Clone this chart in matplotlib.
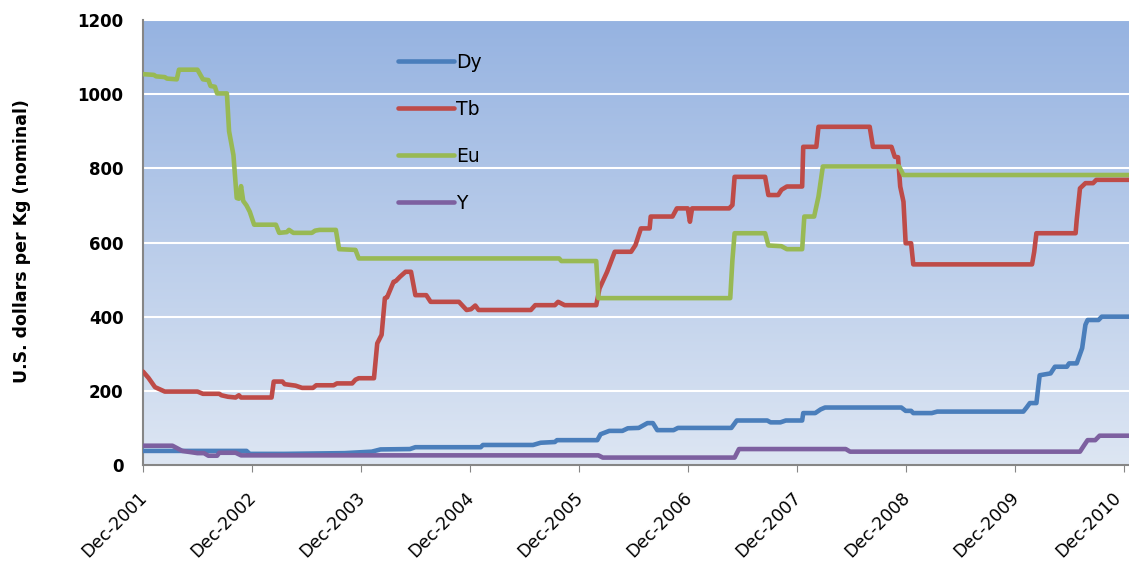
import numpy as np
import matplotlib
matplotlib.use("Agg")
import matplotlib.pyplot as plt
from matplotlib.colors import LinearSegmentedColormap
from matplotlib.transforms import ScaledTranslation

# years since Dec-2001 and price (USD/kg)
years = ["Dec-2001", "Dec-2002", "Dec-2003", "Dec-2004", "Dec-2005",
         "Dec-2006", "Dec-2007", "Dec-2008", "Dec-2009", "Dec-2010"]

dy_t = [0.00, 0.95, 0.98, 1.30, 1.85, 2.10, 2.18, 2.45, 2.50, 3.10, 3.12, 3.58, 3.65, 3.78,
        3.80, 4.17, 4.20, 4.28, 4.40, 4.45, 4.55, 4.63, 4.68, 4.72, 4.87, 4.91, 5.40, 5.45,
        5.73, 5.76, 5.85, 5.90, 6.05, 6.06, 6.17, 6.22, 6.26, 6.96, 7.00, 7.05, 7.07, 7.24,
        7.29, 8.08, 8.11, 8.14, 8.20, 8.23, 8.33, 8.37, 8.48, 8.50, 8.57, 8.62, 8.65, 8.67,
        8.77, 8.80, 9.05]
dy_v = [38, 38, 30, 30, 32, 36, 42, 43, 48, 48, 54, 54, 60, 62,
        67, 67, 83, 92, 92, 99, 100, 113, 113, 94, 94, 100, 100, 120,
        120, 115, 115, 120, 120, 140, 140, 150, 155, 155, 146, 146, 140, 140,
        144, 144, 155, 167, 167, 242, 247, 265, 265, 274, 274, 315, 378, 391,
        391, 400, 400]

tb_t = [0.00, 0.05, 0.11, 0.20, 0.50, 0.55, 0.70, 0.72, 0.78, 0.85, 0.88, 0.90, 1.18, 1.20,
        1.28, 1.30, 1.40, 1.46, 1.56, 1.59, 1.75, 1.78, 1.92, 1.95, 1.98, 2.12, 2.15, 2.19,
        2.22, 2.24, 2.30, 2.32, 2.36, 2.41, 2.46, 2.50, 2.60, 2.64, 2.90, 2.97, 3.01, 3.05,
        3.08, 3.56, 3.60, 3.78, 3.81, 3.87, 4.16, 4.19, 4.26, 4.33, 4.48, 4.52, 4.57, 4.65,
        4.66, 4.86, 4.90, 5.00, 5.02, 5.04, 5.38, 5.41, 5.43, 5.71, 5.74, 5.83, 5.86, 5.91,
        6.05, 6.06, 6.18, 6.20, 6.67, 6.70, 6.87, 6.90, 6.93, 6.95, 6.98, 7.00, 7.05, 7.07,
        8.16, 8.18, 8.20, 8.56, 8.57, 8.60, 8.65, 8.72, 8.75, 9.05]
tb_v = [252, 235, 210, 198, 198, 192, 192, 188, 184, 182, 188, 182, 182, 225,
        225, 218, 214, 208, 208, 215, 215, 220, 220, 230, 234, 234, 328, 351,
        450, 452, 494, 496, 508, 521, 521, 458, 458, 440, 440, 418, 420, 430,
        418, 418, 431, 431, 440, 431, 431, 476, 521, 575, 575, 593, 638, 638,
        670, 670, 692, 692, 656, 692, 692, 701, 777, 777, 728, 728, 742, 751,
        751, 858, 858, 912, 912, 858, 858, 831, 830, 751, 710, 598, 598, 541,
        541, 575, 625, 625, 661, 746, 760, 760, 769, 769]

eu_t = [0.00, 0.10, 0.12, 0.20, 0.22, 0.31, 0.33, 0.50, 0.55, 0.60, 0.62, 0.66, 0.68, 0.77,
        0.79, 0.83, 0.86, 0.88, 0.90, 0.92, 0.95, 0.98, 1.02, 1.22, 1.25, 1.32, 1.34, 1.38,
        1.55, 1.58, 1.62, 1.77, 1.80, 1.95, 1.98, 3.82, 3.84, 4.16, 4.18, 5.39, 5.41, 5.43,
        5.71, 5.74, 5.86, 5.91, 6.05, 6.07, 6.16, 6.20, 6.24, 6.94, 6.98, 9.05]
eu_v = [1054, 1052, 1048, 1046, 1042, 1040, 1066, 1066, 1040, 1038, 1022, 1020, 1002, 1002,
        900, 836, 720, 718, 752, 712, 700, 683, 648, 648, 626, 628, 634, 626,
        626, 632, 634, 634, 582, 580, 557, 557, 550, 550, 450, 450, 553, 625,
        625, 592, 590, 582, 582, 670, 670, 724, 805, 805, 782, 782]

y_t = [0.00, 0.27, 0.36, 0.50, 0.56, 0.60, 0.68, 0.70, 0.85, 0.90, 4.18, 4.22, 5.43, 5.47,
       6.45, 6.49, 8.60, 8.64, 8.67, 8.74, 8.78, 9.05]
y_v = [52, 52, 38, 32, 32, 25, 25, 33, 33, 26, 26, 20, 20, 43,
       43, 36, 36, 54, 67, 67, 79, 79]

fig = plt.figure(figsize=(11.29, 5.63), dpi=100)
ax = fig.add_axes([143 / 1129, 1 - 465 / 563, 1 - 143 / 1129, (465 - 20) / 563])

# gradient fill of the plot area
grad = LinearSegmentedColormap.from_list("bg", ["#dde6f3", "#96b3e1"])
ax.imshow(np.linspace(0, 1, 256).reshape(-1, 1), cmap=grad, origin="lower",
          extent=[0, 1, 0, 1], transform=ax.transAxes, aspect="auto", zorder=0)

ax.plot(dy_t, dy_v, color="#4a7ebb", lw=3.3, label="Dy", zorder=3, solid_capstyle="round")
ax.plot(tb_t, tb_v, color="#be4b48", lw=3.3, label="Tb", zorder=3, solid_capstyle="round")
ax.plot(eu_t, eu_v, color="#98b954", lw=3.3, label="Eu", zorder=3, solid_capstyle="round")
ax.plot(y_t, y_v, color="#7d60a0", lw=3.3, label="Y", zorder=3, solid_capstyle="round")

ax.set_xlim(0, 9.05)
ax.set_ylim(0, 1200)
ax.set_yticks(range(0, 1201, 200))
ax.grid(axis="y", color="white", lw=1.5, zorder=1)
ax.set_axisbelow(True)

ax.set_xticks(range(len(years)))
ax.set_xticklabels(years, rotation=45, ha="right", va="top", rotation_mode="anchor",
                   fontsize=12.5)
ax.tick_params(axis="x", length=5, color="#868686", pad=12)
ax.tick_params(axis="y", length=0, pad=14, labelsize=12)
xlabs = ax.get_xticklabels()
for i, lab in enumerate(xlabs):
    dx = -12 if i == len(xlabs) - 1 else -5   # keep the last one inside the figure
    lab.set_transform(lab.get_transform() + ScaledTranslation(dx / 100, 0, fig.dpi_scale_trans))
for lab in ax.get_yticklabels():
    lab.set_fontweight("bold")

for s in ["top", "right"]:
    ax.spines[s].set_visible(False)
for s in ["left", "bottom"]:
    ax.spines[s].set_color("#868686")
    ax.spines[s].set_linewidth(1.5)

fig.text(22 / 1129, 1 - 241 / 563, "U.S. dollars per Kg (nominal)", rotation=90,
         ha="center", va="center", fontsize=12.5, fontweight="bold")

ax.legend(loc="upper left", bbox_to_anchor=(390 / 1129, 1 - 45 / 563),
          bbox_transform=fig.transFigure, frameon=False, fontsize=13.5,
          handlelength=3.0, handletextpad=0.1, labelspacing=1.5, borderaxespad=0)

fig.savefig("out.png", dpi=100)
